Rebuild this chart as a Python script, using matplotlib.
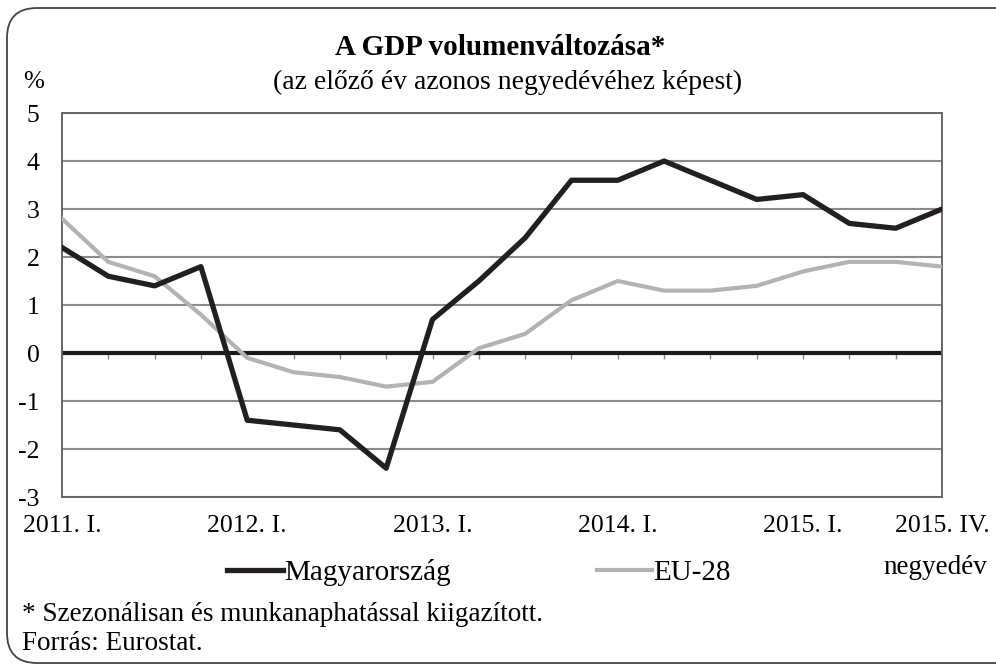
import numpy as np
import matplotlib
matplotlib.use('Agg')
import matplotlib.pyplot as plt
from matplotlib.patches import FancyBboxPatch

quarters = ['2011. I.', '2011. II.', '2011. III.', '2011. IV.',
            '2012. I.', '2012. II.', '2012. III.', '2012. IV.',
            '2013. I.', '2013. II.', '2013. III.', '2013. IV.',
            '2014. I.', '2014. II.', '2014. III.', '2014. IV.',
            '2015. I.', '2015. II.', '2015. III.', '2015. IV.']
hungary = [2.2, 1.6, 1.4, 1.8, -1.4, -1.5, -1.6, -2.4, 0.7, 1.5,
           2.4, 3.6, 3.6, 4.0, 3.6, 3.2, 3.3, 2.7, 2.6, 3.0]
eu28 = [2.8, 1.9, 1.6, 0.8, -0.1, -0.4, -0.5, -0.7, -0.6, 0.1,
        0.4, 1.1, 1.5, 1.3, 1.3, 1.4, 1.7, 1.9, 1.9, 1.8]
label_idx = [0, 4, 8, 12, 16, 19]
yticks = [-3, -2, -1, 0, 1, 2, 3, 4, 5]

plt.rcParams['font.family'] = ['Liberation Serif', 'DejaVu Serif']
plt.rcParams['font.size'] = 18.5

fig = plt.figure(figsize=(9.96, 6.65), dpi=100)

# rounded frame, drawn in pixel units on a background axes
bg = fig.add_axes([0, 0, 1, 1], zorder=0)
bg.set_xlim(0, 996)
bg.set_ylim(0, 665)
bg.axis('off')
frame = FancyBboxPatch((7, 2), 1030, 655,
                       boxstyle='round,pad=0,rounding_size=30',
                       fill=False, ec='#444444', lw=1.3)
bg.add_patch(frame)
frame.set_clip_box(bg.bbox)

ax = fig.add_axes([0.0622, 0.2526, 0.8836, 0.5774], zorder=1)
ax.patch.set_alpha(0)

x = np.arange(len(quarters))
grid_c = '#8a8a8a'
for y in yticks:
    if y != 0:
        ax.axhline(y, color=grid_c, lw=1.5, zorder=1)
ax.axhline(0, color='#1a1a1a', lw=3.0, zorder=2)
ax.vlines(x, -0.13, 0, color=grid_c, lw=1.0, zorder=1)

ax.plot(x, eu28, color='#b3b3b5', lw=3.0, label='EU-28', zorder=3)
ax.plot(x, hungary, color='#231f20', lw=3.8, label='Magyarország', zorder=4)

ax.set_xlim(0, len(quarters) - 1)
ax.set_ylim(-3, 5)
ax.set_yticks(yticks)
ax.set_yticklabels([str(v) for v in yticks])
ax.set_xticks(label_idx)
ax.set_xticklabels([quarters[i] for i in label_idx])
ax.tick_params(axis='both', length=0, labelsize=18.5)
ax.tick_params(axis='y', pad=16)
ax.tick_params(axis='x', pad=13)
for s in ax.spines.values():
    s.set_color('#666666')
    s.set_linewidth(1.4)

handles, labels = ax.get_legend_handles_labels()
fig.legend(handles[::-1], labels[::-1], loc='center', bbox_to_anchor=(0.481, 0.139),
           ncol=2, frameon=False, handlelength=1.9, handletextpad=0.05,
           columnspacing=5.0, fontsize=21)

fig.text(0.502, 0.929, 'A GDP volumenváltozása*', ha='center', va='center',
         fontsize=21, fontweight='bold')
fig.text(0.510, 0.876, '(az előző év azonos negyedévéhez képest)', ha='center',
         va='center', fontsize=20)
fig.text(0.023, 0.877, '%', ha='left', va='center', fontsize=18)
fig.text(0.939, 0.146, 'negyedév', ha='center', va='center', fontsize=19.5)
fig.text(0.022, 0.076, '* Szezonálisan és munkanaphatással kiigazított.',
         ha='left', va='center', fontsize=19.5)
fig.text(0.022, 0.032, 'Forrás: Eurostat.', ha='left', va='center', fontsize=19.5)

fig.savefig('out.png', dpi=100)
